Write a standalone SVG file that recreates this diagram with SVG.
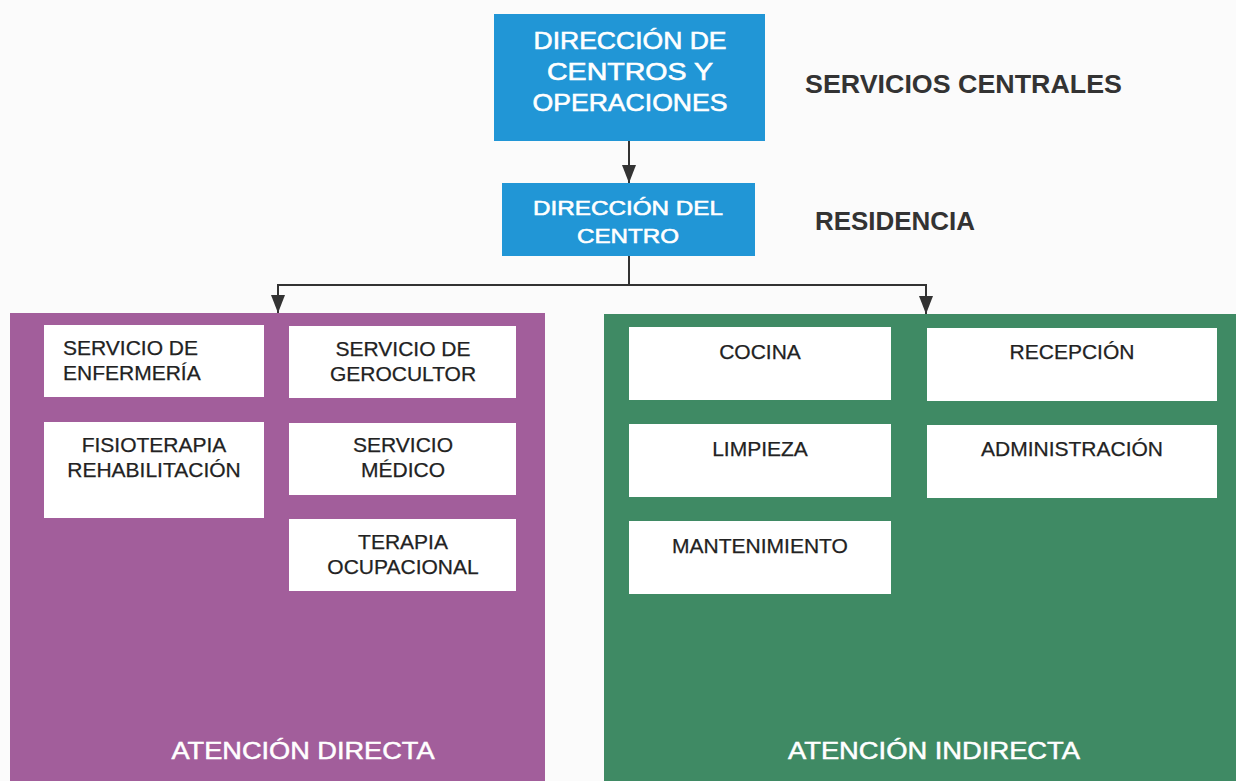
<svg xmlns="http://www.w3.org/2000/svg" width="1236" height="781" viewBox="0 0 1236 781">
<style>
.blue{fill:#2196d6}
.wbox{fill:#ffffff}
.bt{font-family:"Liberation Sans",Arial,sans-serif;fill:#ffffff;stroke:#ffffff;stroke-width:0.6;font-size:24px;text-anchor:middle}
.t{font-family:"Liberation Sans",Arial,sans-serif;fill:#222222;stroke:#222222;stroke-width:0.25;font-size:21px}
.c{text-anchor:middle}
.side{font-family:"Liberation Sans",Arial,sans-serif;fill:#333333;font-size:26px;font-weight:bold}
.foot{font-family:"Liberation Sans",Arial,sans-serif;fill:#ffffff;stroke:#ffffff;stroke-width:0.5;font-size:24px;text-anchor:middle}
.conn{stroke:#333333;stroke-width:2;fill:none}
</style>
<defs>
<marker id="ah" viewBox="0 0 18 14" refX="18" refY="7" markerWidth="18" markerHeight="14" markerUnits="userSpaceOnUse" orient="auto">
<path d="M0,0 L18,7 L0,14 Z" fill="#333333"/>
</marker>
</defs>
<rect x="0" y="0" width="1236" height="781" fill="#fbfbfb"/>
<g id="panel-directa">
<rect x="10" y="313" width="535" height="468" fill="#a25e9b"/>
<text class="foot" x="303" y="759" textLength="263" lengthAdjust="spacingAndGlyphs">ATENCIÓN DIRECTA</text>
</g>
<g id="panel-indirecta">
<rect x="604" y="314" width="632" height="467" fill="#3f8a64"/>
<text class="foot" x="934" y="759" textLength="292" lengthAdjust="spacingAndGlyphs">ATENCIÓN INDIRECTA</text>
</g>
<g id="connectors">
<line class="conn" x1="629" y1="141" x2="629" y2="183" marker-end="url(#ah)"/>
<polyline class="conn" points="629,256 629,285 278,285 278,313" marker-end="url(#ah)"/>
<polyline class="conn" points="629,285 926,285 926,314" marker-end="url(#ah)"/>
</g>
<g id="dir-centros">
<rect class="blue" x="494" y="14" width="271" height="127"/>
<text class="bt" x="630" y="49" textLength="193" lengthAdjust="spacingAndGlyphs">DIRECCIÓN DE</text>
<text class="bt" x="630" y="80" textLength="166" lengthAdjust="spacingAndGlyphs">CENTROS Y</text>
<text class="bt" x="630" y="111" textLength="195" lengthAdjust="spacingAndGlyphs">OPERACIONES</text>
</g>
<g id="dir-centro">
<rect class="blue" x="502" y="183" width="253" height="73"/>
<text class="bt" x="628" y="215" style="font-size:21px" textLength="190" lengthAdjust="spacingAndGlyphs">DIRECCIÓN DEL</text>
<text class="bt" x="628" y="243" style="font-size:21px" textLength="102" lengthAdjust="spacingAndGlyphs">CENTRO</text>
</g>
<g id="lbl-servicios-centrales">
<text class="side" x="805" y="93" textLength="317" lengthAdjust="spacingAndGlyphs">SERVICIOS CENTRALES</text>
</g>
<g id="lbl-residencia">
<text class="side" x="815" y="230" textLength="160" lengthAdjust="spacingAndGlyphs">RESIDENCIA</text>
</g>
<g id="enfermeria">
<rect class="wbox" x="44" y="325" width="220" height="72"/>
<text class="t" x="63" y="355">SERVICIO DE</text>
<text class="t" x="63" y="380">ENFERMERÍA</text>
</g>
<g id="fisioterapia">
<rect class="wbox" x="44" y="422" width="220" height="96"/>
<text class="t c" x="154" y="452">FISIOTERAPIA</text>
<text class="t c" x="154" y="477">REHABILITACIÓN</text>
</g>
<g id="gerocultor">
<rect class="wbox" x="289" y="326" width="227" height="72"/>
<text class="t c" x="403" y="356">SERVICIO DE</text>
<text class="t c" x="403" y="381">GEROCULTOR</text>
</g>
<g id="medico">
<rect class="wbox" x="289" y="423" width="227" height="72"/>
<text class="t c" x="403" y="452">SERVICIO</text>
<text class="t c" x="403" y="477">MÉDICO</text>
</g>
<g id="terapia">
<rect class="wbox" x="289" y="519" width="227" height="72"/>
<text class="t c" x="403" y="549">TERAPIA</text>
<text class="t c" x="403" y="574">OCUPACIONAL</text>
</g>
<g id="cocina">
<rect class="wbox" x="629" y="327" width="262" height="73"/>
<text class="t c" x="760" y="359">COCINA</text>
</g>
<g id="recepcion">
<rect class="wbox" x="927" y="328" width="290" height="73"/>
<text class="t c" x="1072" y="359">RECEPCIÓN</text>
</g>
<g id="limpieza">
<rect class="wbox" x="629" y="424" width="262" height="73"/>
<text class="t c" x="760" y="456">LIMPIEZA</text>
</g>
<g id="administracion">
<rect class="wbox" x="927" y="425" width="290" height="73"/>
<text class="t c" x="1072" y="456">ADMINISTRACIÓN</text>
</g>
<g id="mantenimiento">
<rect class="wbox" x="629" y="521" width="262" height="73"/>
<text class="t c" x="760" y="553">MANTENIMIENTO</text>
</g>
</svg>
